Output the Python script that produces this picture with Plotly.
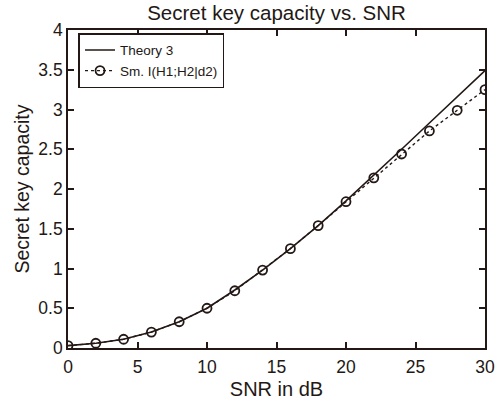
import plotly.graph_objects as go

snr_db = [0, 2, 4, 6, 8, 10, 12, 14, 16, 18, 20, 22, 24, 26, 28, 30]
theory3 = [0.03, 0.06, 0.11, 0.20, 0.33, 0.50, 0.73, 0.98, 1.25, 1.54, 1.85, 2.17, 2.50, 2.83, 3.16, 3.49]
sim_i = [0.03, 0.06, 0.11, 0.20, 0.33, 0.50, 0.72, 0.98, 1.25, 1.54, 1.84, 2.14, 2.44, 2.73, 2.99, 3.25]

x_ticks = [0, 5, 10, 15, 20, 25, 30]
y_ticks = [0, 0.5, 1, 1.5, 2, 2.5, 3, 3.5, 4]
y_tick_text = ["0", "0.5", "1", "1.5", "2", "2.5", "3", "3.5", "4"]

ink = "#231815"
font_family = "Liberation Sans, Arial, sans-serif"

fig = go.Figure()
fig.add_trace(go.Scatter(
    x=snr_db, y=theory3, mode="lines", name="Theory 3",
    line=dict(color=ink, width=1.6),
))
fig.add_trace(go.Scatter(
    x=snr_db, y=sim_i, mode="lines+markers", name="Sm. I(H1;H2|d2)",
    line=dict(color=ink, width=1.4, dash="dot"),
    marker=dict(symbol="circle-open", size=9, color=ink, line=dict(width=1.8, color=ink)),
))

axis_common = dict(
    showgrid=False, zeroline=False, showline=True, linecolor=ink, linewidth=1.6,
    mirror="ticks", ticks="inside", ticklen=6, tickwidth=1.6, tickcolor=ink,
    tickfont=dict(family=font_family, size=17.5, color=ink), automargin=False,
)

fig.update_layout(
    width=502, height=403,
    margin=dict(l=68, r=17, t=30, b=55),
    paper_bgcolor="white", plot_bgcolor="white",
    font=dict(family=font_family, color=ink),
    title=dict(text="Secret key capacity vs. SNR", x=0.5, xanchor="center",
               xref="paper", y=0.967, yanchor="middle", yref="container",
               font=dict(family=font_family, size=20.5, color=ink), automargin=False),
    xaxis=dict(range=[0, 30], tickvals=x_ticks, ticklabelstandoff=2,
               title=dict(text="SNR in dB", standoff=6,
               font=dict(family=font_family, size=20, color=ink)), **axis_common),
    yaxis=dict(range=[0, 4], tickvals=y_ticks, ticktext=y_tick_text,
               title=dict(text="Secret key capacity", standoff=4,
               font=dict(family=font_family, size=19.5, color=ink)), **axis_common),
    legend=dict(x=0.025, y=0.99, xanchor="left", yanchor="top",
                bgcolor="white", bordercolor=ink, borderwidth=1.6,
                font=dict(family=font_family, size=13.5, color=ink),
                tracegroupgap=0, itemwidth=30),
    showlegend=True,
)

fig.write_html("out.html")
